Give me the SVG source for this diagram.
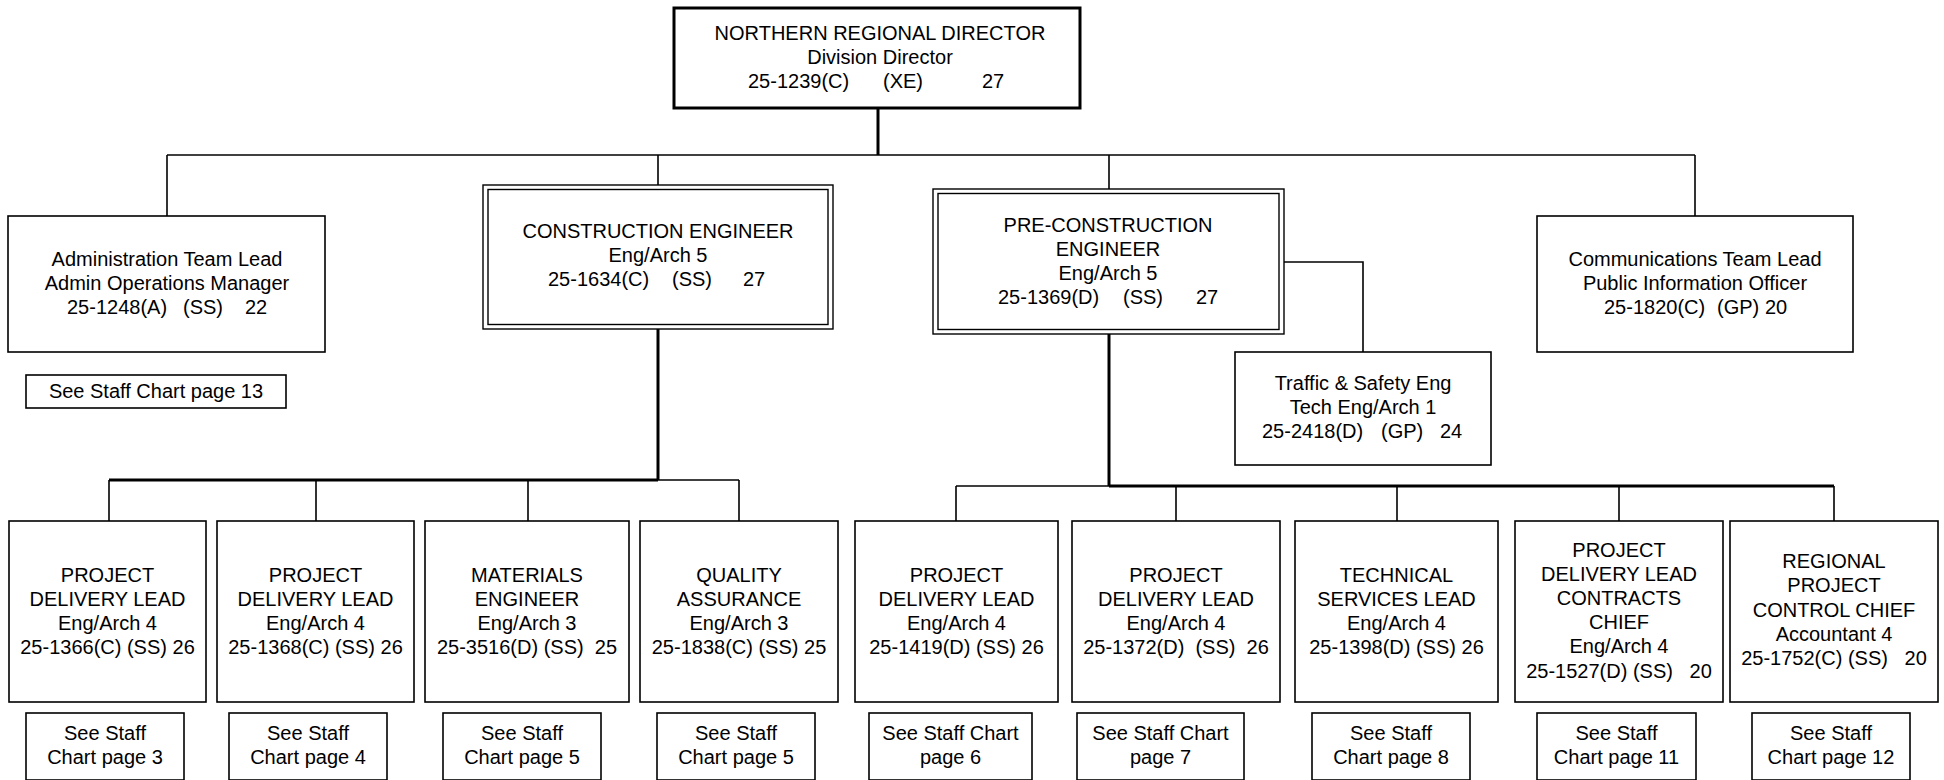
<svg xmlns="http://www.w3.org/2000/svg" width="1944" height="780" viewBox="0 0 1944 780">
<style>
  text { font-family: "Liberation Sans", Arial, sans-serif; font-size: 20px; fill: #000; }
  .c { text-anchor: middle; }
  .box { fill: #fff; stroke: #000; stroke-width: 1.6; }
  .dbl { fill: none; stroke: #000; stroke-width: 1.4; }
  .top { fill: #fff; stroke: #000; stroke-width: 3; }
  .ln { fill: none; stroke: #000; stroke-width: 1.6; }
  .thk { fill: none; stroke: #000; stroke-width: 3; }
</style>
<rect width="1944" height="780" fill="#fff"/>

<g id="connectors">
  <line class="thk" x1="878" y1="108" x2="878" y2="155"/>
  <line class="ln" x1="167" y1="155" x2="1695" y2="155"/>
  <line class="ln" x1="167" y1="155" x2="167" y2="216"/>
  <line class="ln" x1="658" y1="155" x2="658" y2="185"/>
  <line class="ln" x1="1109" y1="155" x2="1109" y2="189"/>
  <line class="ln" x1="1695" y1="155" x2="1695" y2="216"/>
  <line class="thk" x1="658" y1="329" x2="658" y2="480"/>
  <line class="ln" x1="109" y1="480" x2="739" y2="480"/>
  <line class="thk" x1="109" y1="480" x2="658" y2="480"/>
  <line class="ln" x1="109" y1="480" x2="109" y2="521"/>
  <line class="ln" x1="316" y1="480" x2="316" y2="521"/>
  <line class="ln" x1="528" y1="480" x2="528" y2="521"/>
  <line class="ln" x1="739" y1="480" x2="739" y2="521"/>
  <line class="thk" x1="1109" y1="334" x2="1109" y2="486"/>
  <line class="ln" x1="956" y1="486" x2="1834" y2="486"/>
  <line class="thk" x1="1109" y1="486" x2="1834" y2="486"/>
  <line class="ln" x1="956" y1="486" x2="956" y2="521"/>
  <line class="ln" x1="1176" y1="486" x2="1176" y2="521"/>
  <line class="ln" x1="1397" y1="486" x2="1397" y2="521"/>
  <line class="ln" x1="1619" y1="486" x2="1619" y2="521"/>
  <line class="ln" x1="1834" y1="486" x2="1834" y2="521"/>
  <polyline class="ln" points="1284,262 1363,262 1363,352"/>
</g>

<g id="director">
  <rect class="top" x="674" y="8" width="406" height="100"/>
  <text class="c" x="880" y="40">NORTHERN REGIONAL DIRECTOR</text>
  <text class="c" x="880" y="64">Division Director</text>
  <text y="88"><tspan x="748">25-1239(C)</tspan><tspan x="883">(XE)</tspan><tspan x="982">27</tspan></text>
</g>

<g id="admin">
  <rect class="box" x="8" y="216" width="317" height="136"/>
  <text class="c" x="167" y="266">Administration Team Lead</text>
  <text class="c" x="167" y="290">Admin Operations Manager</text>
  <text y="314"><tspan x="67">25-1248(A)</tspan><tspan x="183">(SS)</tspan><tspan x="245">22</tspan></text>
</g>

<g id="admin-staff">
  <rect class="box" x="26" y="375" width="260" height="33"/>
  <text class="c" x="156" y="398">See Staff Chart page 13</text>
</g>

<g id="construction">
  <rect class="dbl" x="483" y="185" width="350" height="144"/>
  <rect class="dbl" x="488" y="189.5" width="340" height="135"/>
  <text class="c" x="658" y="238">CONSTRUCTION ENGINEER</text>
  <text class="c" x="658" y="262">Eng/Arch 5</text>
  <text y="286"><tspan x="548">25-1634(C)</tspan><tspan x="672">(SS)</tspan><tspan x="743">27</tspan></text>
</g>

<g id="preconstruction">
  <rect class="dbl" x="933" y="189" width="351" height="145"/>
  <rect class="dbl" x="938" y="193.5" width="341" height="136"/>
  <text class="c" x="1108" y="232">PRE-CONSTRUCTION</text>
  <text class="c" x="1108" y="256">ENGINEER</text>
  <text class="c" x="1108" y="280">Eng/Arch 5</text>
  <text y="304"><tspan x="998">25-1369(D)</tspan><tspan x="1123">(SS)</tspan><tspan x="1196">27</tspan></text>
</g>

<g id="traffic">
  <rect class="box" x="1235" y="352" width="256" height="113"/>
  <text class="c" x="1363" y="390">Traffic &amp; Safety Eng</text>
  <text class="c" x="1363" y="414">Tech Eng/Arch 1</text>
  <text y="438"><tspan x="1262">25-2418(D)</tspan><tspan x="1381">(GP)</tspan><tspan x="1440">24</tspan></text>
</g>

<g id="communications">
  <rect class="box" x="1537" y="216" width="316" height="136"/>
  <text class="c" x="1695" y="266">Communications Team Lead</text>
  <text class="c" x="1695" y="290">Public Information Officer</text>
  <text y="314"><tspan x="1604">25-1820(C)</tspan><tspan x="1717">(GP)</tspan><tspan x="1765">20</tspan></text>
</g>

<g id="pdl-1366">
  <rect class="box" x="9" y="521" width="197" height="181"/>
  <text class="c" x="107.5" y="582">PROJECT</text>
  <text class="c" x="107.5" y="606">DELIVERY LEAD</text>
  <text class="c" x="107.5" y="630">Eng/Arch 4</text>
  <text class="c" x="107.5" y="654" xml:space="preserve">25-1366(C) (SS) 26</text>
</g>
<g id="pdl-1368">
  <rect class="box" x="217" y="521" width="197" height="181"/>
  <text class="c" x="315.5" y="582">PROJECT</text>
  <text class="c" x="315.5" y="606">DELIVERY LEAD</text>
  <text class="c" x="315.5" y="630">Eng/Arch 4</text>
  <text class="c" x="315.5" y="654" xml:space="preserve">25-1368(C) (SS) 26</text>
</g>
<g id="materials">
  <rect class="box" x="425" y="521" width="204" height="181"/>
  <text class="c" x="527" y="582">MATERIALS</text>
  <text class="c" x="527" y="606">ENGINEER</text>
  <text class="c" x="527" y="630">Eng/Arch 3</text>
  <text class="c" x="527" y="654" xml:space="preserve">25-3516(D) (SS)  25</text>
</g>
<g id="quality">
  <rect class="box" x="640" y="521" width="198" height="181"/>
  <text class="c" x="739" y="582">QUALITY</text>
  <text class="c" x="739" y="606">ASSURANCE</text>
  <text class="c" x="739" y="630">Eng/Arch 3</text>
  <text class="c" x="739" y="654" xml:space="preserve">25-1838(C) (SS) 25</text>
</g>
<g id="pdl-1419">
  <rect class="box" x="855" y="521" width="203" height="181"/>
  <text class="c" x="956.5" y="582">PROJECT</text>
  <text class="c" x="956.5" y="606">DELIVERY LEAD</text>
  <text class="c" x="956.5" y="630">Eng/Arch 4</text>
  <text class="c" x="956.5" y="654" xml:space="preserve">25-1419(D) (SS) 26</text>
</g>
<g id="pdl-1372">
  <rect class="box" x="1072" y="521" width="208" height="181"/>
  <text class="c" x="1176" y="582">PROJECT</text>
  <text class="c" x="1176" y="606">DELIVERY LEAD</text>
  <text class="c" x="1176" y="630">Eng/Arch 4</text>
  <text class="c" x="1176" y="654" xml:space="preserve">25-1372(D)  (SS)  26</text>
</g>
<g id="technical">
  <rect class="box" x="1295" y="521" width="203" height="181"/>
  <text class="c" x="1396.5" y="582">TECHNICAL</text>
  <text class="c" x="1396.5" y="606">SERVICES LEAD</text>
  <text class="c" x="1396.5" y="630">Eng/Arch 4</text>
  <text class="c" x="1396.5" y="654" xml:space="preserve">25-1398(D) (SS) 26</text>
</g>
<g id="contracts">
  <rect class="box" x="1515" y="521" width="208" height="181"/>
  <text class="c" x="1619" y="557">PROJECT</text>
  <text class="c" x="1619" y="581">DELIVERY LEAD</text>
  <text class="c" x="1619" y="605">CONTRACTS</text>
  <text class="c" x="1619" y="629">CHIEF</text>
  <text class="c" x="1619" y="653">Eng/Arch 4</text>
  <text class="c" x="1619" y="678" xml:space="preserve">25-1527(D) (SS)   20</text>
</g>
<g id="control">
  <rect class="box" x="1730" y="521" width="208" height="181"/>
  <text class="c" x="1834" y="568">REGIONAL</text>
  <text class="c" x="1834" y="592">PROJECT</text>
  <text class="c" x="1834" y="617">CONTROL CHIEF</text>
  <text class="c" x="1834" y="641">Accountant 4</text>
  <text class="c" x="1834" y="665" xml:space="preserve">25-1752(C) (SS)   20</text>
</g>

<g id="staff-3">
  <rect class="box" x="26" y="713" width="158" height="67"/>
  <text class="c" x="105" y="740">See Staff</text>
  <text class="c" x="105" y="764">Chart page 3</text>
</g>
<g id="staff-4">
  <rect class="box" x="229" y="713" width="158" height="67"/>
  <text class="c" x="308" y="740">See Staff</text>
  <text class="c" x="308" y="764">Chart page 4</text>
</g>
<g id="staff-5a">
  <rect class="box" x="443" y="713" width="158" height="67"/>
  <text class="c" x="522" y="740">See Staff</text>
  <text class="c" x="522" y="764">Chart page 5</text>
</g>
<g id="staff-5b">
  <rect class="box" x="657" y="713" width="158" height="67"/>
  <text class="c" x="736" y="740">See Staff</text>
  <text class="c" x="736" y="764">Chart page 5</text>
</g>
<g id="staff-6">
  <rect class="box" x="869" y="713" width="163" height="67"/>
  <text class="c" x="950.5" y="740">See Staff Chart</text>
  <text class="c" x="950.5" y="764">page 6</text>
</g>
<g id="staff-7">
  <rect class="box" x="1077" y="713" width="167" height="67"/>
  <text class="c" x="1160.5" y="740">See Staff Chart</text>
  <text class="c" x="1160.5" y="764">page 7</text>
</g>
<g id="staff-8">
  <rect class="box" x="1312" y="713" width="158" height="67"/>
  <text class="c" x="1391" y="740">See Staff</text>
  <text class="c" x="1391" y="764">Chart page 8</text>
</g>
<g id="staff-11">
  <rect class="box" x="1537" y="713" width="159" height="67"/>
  <text class="c" x="1616.5" y="740">See Staff</text>
  <text class="c" x="1616.5" y="764">Chart page 11</text>
</g>
<g id="staff-12">
  <rect class="box" x="1752" y="713" width="158" height="67"/>
  <text class="c" x="1831" y="740">See Staff</text>
  <text class="c" x="1831" y="764">Chart page 12</text>
</g>
</svg>
